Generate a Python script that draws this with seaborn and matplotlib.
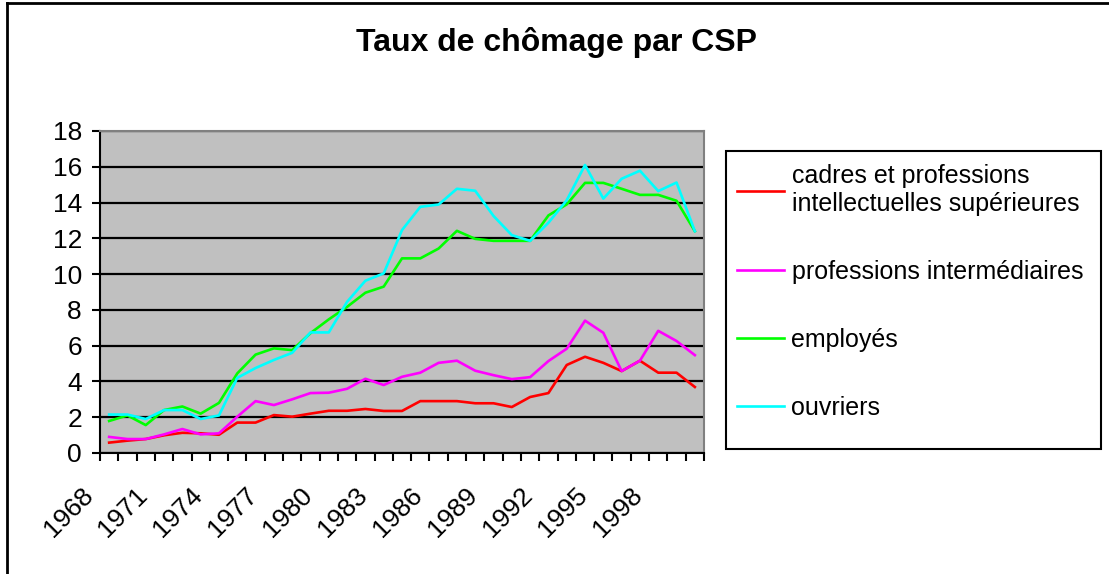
import numpy as np
import pandas as pd
import matplotlib
matplotlib.use('Agg')
import matplotlib.pyplot as plt
import matplotlib.transforms as mtransforms
from matplotlib.patches import Rectangle
from matplotlib.lines import Line2D
import seaborn as sns

# --- Data (taux de chômage en %) ---
years = list(range(1968, 2001))

cadres = [0.58, 0.69, 0.78, 0.99, 1.13, 1.10, 1.02, 1.70, 1.70, 2.12,
          2.03, 2.20, 2.36, 2.36, 2.46, 2.35, 2.35, 2.90, 2.90, 2.90,
          2.78, 2.78, 2.57, 3.13, 3.35, 4.92, 5.38, 5.04, 4.58, 5.16,
          4.49, 4.49, 3.69]

intermediaires = [0.90, 0.78, 0.78, 1.04, 1.34, 1.04, 1.10, 2.03, 2.90, 2.68,
                  3.00, 3.35, 3.37, 3.59, 4.15, 3.80, 4.26, 4.49, 5.04, 5.16,
                  4.60, 4.35, 4.13, 4.24, 5.14, 5.83, 7.40, 6.72, 4.58, 5.16,
                  6.83, 6.26, 5.47]

employes = [1.79, 2.10, 1.56, 2.40, 2.60, 2.20, 2.80, 4.45, 5.50, 5.85,
            5.75, 6.70, 7.47, 8.17, 8.96, 9.30, 10.88, 10.88, 11.43, 12.42,
            11.97, 11.86, 11.86, 11.86, 13.28, 13.90, 15.10, 15.10, 14.77, 14.43,
            14.43, 14.10, 12.40]

ouvriers = [2.15, 2.15, 1.90, 2.40, 2.40, 1.90, 2.10, 4.20, 4.75, 5.20,
            5.60, 6.74, 6.74, 8.45, 9.63, 10.04, 12.46, 13.76, 13.89, 14.77,
            14.66, 13.25, 12.18, 11.86, 12.87, 14.13, 16.10, 14.22, 15.33, 15.78,
            14.64, 15.12, 12.40]

series_names = ['cadres et professions intellectuelles supérieures',
                'professions intermédiaires', 'employés', 'ouvriers']
legend_labels = ['cadres et professions\nintellectuelles supérieures',
                 'professions intermédiaires', 'employés', 'ouvriers']
colors = ['#FF0000', '#FF00FF', '#00FF00', '#00FFFF']

df = pd.DataFrame({
    'annee': years * 4,
    'taux': cadres + intermediaires + employes + ouvriers,
    'csp': np.repeat(series_names, len(years)),
})

plt.rcParams['font.family'] = ['Liberation Sans', 'DejaVu Sans']

W, H = 1109, 574
fig = plt.figure(figsize=(W / 100, H / 100), dpi=100)
ax = fig.add_axes([100 / W, 1 - 453 / H, 604 / W, 322 / H])
ax.set_facecolor('#C0C0C0')

sns.lineplot(data=df, x='annee', y='taux', hue='csp', hue_order=series_names,
             palette=dict(zip(series_names, colors)), linewidth=1.9, ax=ax)
handles, _ = ax.get_legend_handles_labels()
ax.get_legend().remove()

# axes
ax.set_xlim(1967.5, 2000.5)
ax.set_ylim(0, 18)
ax.set_yticks(range(0, 19, 2))
ax.set_axisbelow(True)
ax.yaxis.grid(True, color='black', linewidth=1.6)
ax.set_xlabel('')
ax.set_ylabel('')

ax.set_xticks(np.arange(1967.5, 2001, 1))
ax.set_xticklabels([])
ax.set_xticks(years[::3], minor=True)
ax.set_xticklabels([str(y) for y in years[::3]], minor=True)

ax.tick_params(axis='x', which='major', length=6, width=1.5, color='black')
ax.tick_params(axis='x', which='minor', length=0, labelsize=19, pad=28)
ax.tick_params(axis='y', length=6, width=1.5, labelsize=19, pad=7)

offset = mtransforms.ScaledTranslation(-0.20, 0, fig.dpi_scale_trans)
for lbl in ax.get_xticklabels(minor=True):
    lbl.set_rotation(45)
    lbl.set_ha('right')
    lbl.set_va('center')
    lbl.set_rotation_mode('anchor')
    lbl.set_transform(lbl.get_transform() + offset)

for side in ['left', 'bottom']:
    ax.spines[side].set_color('black')
    ax.spines[side].set_linewidth(1.5)
for side in ['top', 'right']:
    ax.spines[side].set_color('#808080')
    ax.spines[side].set_linewidth(1.5)

# legend box + entries
fig.patches.append(Rectangle((726 / W, 1 - 449 / H), (1101 - 726) / W, (449 - 151) / H,
                             transform=fig.transFigure, fill=False,
                             edgecolor='black', linewidth=1.5))
leg = fig.legend(handles, legend_labels, loc='upper left',
                 bbox_to_anchor=(724 / W, 1 - 152 / H), frameon=False,
                 fontsize=18, handlelength=1.9, handletextpad=0.3,
                 labelspacing=1.75, borderpad=0)
for h in leg.get_lines():
    h.set_linewidth(1.9)

# title and outer border
fig.text(557 / W, 1 - 43 / H, 'Taux de chômage par CSP', ha='center', va='center',
         fontsize=23, fontweight='bold')
fig.add_artist(Line2D([7 / W, 7 / W], [0, 1 - 3 / H], transform=fig.transFigure,
                      color='black', linewidth=2))
fig.add_artist(Line2D([7 / W, 1], [1 - 3 / H, 1 - 3 / H], transform=fig.transFigure,
                      color='black', linewidth=2))

fig.savefig('out.png', dpi=100)
